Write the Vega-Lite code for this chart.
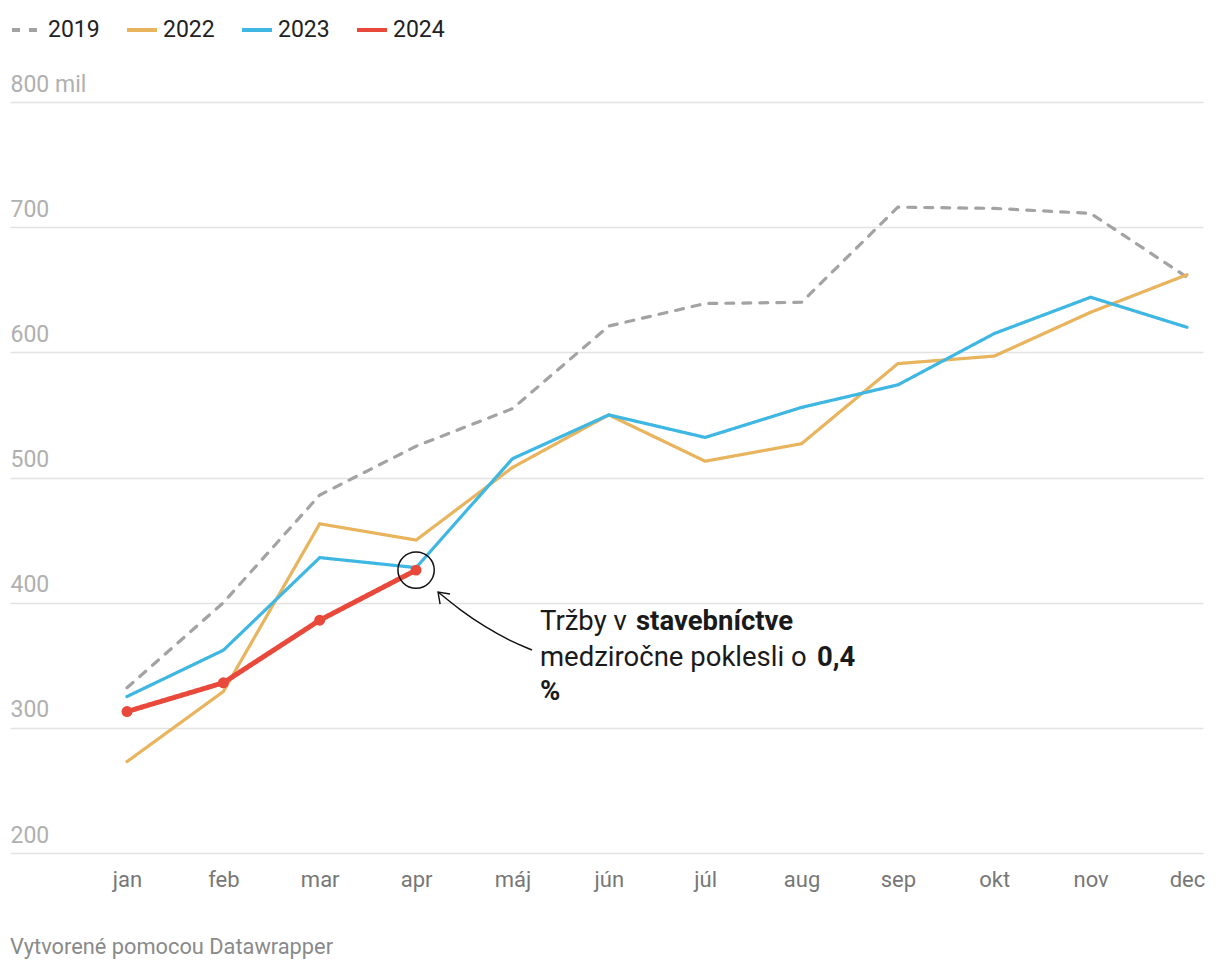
{
  "$schema": "https://vega.github.io/schema/vega-lite/v6.json",
  "autosize": {"type": "none"},
  "width": 1193,
  "height": 751,
  "padding": {"left": 10, "top": 102, "right": 17, "bottom": 117},
  "background": "white",
  "config": {
    "font": "Roboto",
    "view": {"stroke": null}
  },
  "title": {
    "text": "Vytvorené pomocou Datawrapper",
    "orient": "bottom",
    "anchor": "start",
    "frame": "group",
    "fontSize": 21.8,
    "fontWeight": "normal",
    "color": "#8a8a8a",
    "offset": 47
  },
  "datasets": {
    "sales": [
      {"year": "2019", "m": 1, "v": 332}, {"year": "2019", "m": 2, "v": 400}, {"year": "2019", "m": 3, "v": 486}, {"year": "2019", "m": 4, "v": 525},
      {"year": "2019", "m": 5, "v": 555}, {"year": "2019", "m": 6, "v": 621}, {"year": "2019", "m": 7, "v": 639}, {"year": "2019", "m": 8, "v": 640},
      {"year": "2019", "m": 9, "v": 716}, {"year": "2019", "m": 10, "v": 715}, {"year": "2019", "m": 11, "v": 711}, {"year": "2019", "m": 12, "v": 660},
      {"year": "2022", "m": 1, "v": 273}, {"year": "2022", "m": 2, "v": 329}, {"year": "2022", "m": 3, "v": 463}, {"year": "2022", "m": 4, "v": 450},
      {"year": "2022", "m": 5, "v": 508}, {"year": "2022", "m": 6, "v": 550}, {"year": "2022", "m": 7, "v": 513}, {"year": "2022", "m": 8, "v": 527},
      {"year": "2022", "m": 9, "v": 591}, {"year": "2022", "m": 10, "v": 597}, {"year": "2022", "m": 11, "v": 632}, {"year": "2022", "m": 12, "v": 662},
      {"year": "2023", "m": 1, "v": 325}, {"year": "2023", "m": 2, "v": 362}, {"year": "2023", "m": 3, "v": 436}, {"year": "2023", "m": 4, "v": 428},
      {"year": "2023", "m": 5, "v": 515}, {"year": "2023", "m": 6, "v": 550}, {"year": "2023", "m": 7, "v": 532}, {"year": "2023", "m": 8, "v": 556},
      {"year": "2023", "m": 9, "v": 574}, {"year": "2023", "m": 10, "v": 615}, {"year": "2023", "m": 11, "v": 644}, {"year": "2023", "m": 12, "v": 620},
      {"year": "2024", "m": 1, "v": 313}, {"year": "2024", "m": 2, "v": 336}, {"year": "2024", "m": 3, "v": 386}, {"year": "2024", "m": 4, "v": 426}
    ],
    "arrow": [
      {"part": "curve", "i": 1, "x": 5.203, "y": 362.2},
      {"part": "curve", "i": 2, "x": 4.975, "y": 369.4},
      {"part": "curve", "i": 3, "x": 4.715, "y": 380.6},
      {"part": "curve", "i": 4, "x": 4.456, "y": 394.1},
      {"part": "curve", "i": 5, "x": 4.228, "y": 408.5},
      {"part": "headA", "i": 1, "x": 4.352, "y": 406.9},
      {"part": "headA", "i": 2, "x": 4.228, "y": 408.5},
      {"part": "headA", "i": 3, "x": 4.249, "y": 398.9}
    ],
    "notes": [
      {"t": "Tržby v", "x": 5.286, "y": 384.5, "w": "normal"},
      {"t": "stavebníctve", "x": 6.282, "y": 384.5, "w": "bold"},
      {"t": "medziročne poklesli o", "x": 5.286, "y": 355.8, "w": "normal"},
      {"t": "0,4", "x": 8.161, "y": 355.8, "w": "bold"},
      {"t": "%", "x": 5.286, "y": 328.6, "w": "bold"}
    ]
  },
  "layer": [
    {
      "data": {"name": "sales"},
      "transform": [{"filter": "datum.year != '2024'"}],
      "mark": {"type": "line", "strokeWidth": 3.2, "strokeCap": "round", "clip": false},
      "encoding": {
        "x": {
          "field": "m", "type": "quantitative",
          "scale": {"domain": [-0.214, 12.166], "nice": false, "zero": false},
          "axis": {
            "values": [1, 2, 3, 4, 5, 6, 7, 8, 9, 10, 11, 12],
            "labelExpr": "['jan','feb','mar','apr','máj','jún','júl','aug','sep','okt','nov','dec'][datum.value - 1]",
            "title": null, "grid": false, "domain": false, "ticks": false,
            "labelFontSize": 22, "labelColor": "#777777", "labelPadding": 16, "labelFont": "Roboto"
          }
        },
        "y": {
          "field": "v", "type": "quantitative",
          "scale": {"domain": [200, 800], "nice": false, "zero": false},
          "axis": {
            "values": [200, 300, 400, 500, 600, 700, 800],
            "labelExpr": "datum.value == 800 ? '800 mil' : datum.label",
            "title": null, "domain": false, "ticks": false,
            "grid": true, "gridColor": "#e3e3e3", "gridWidth": 1.5,
            "labelAlign": "left", "labelBaseline": "bottom", "labelPadding": 0, "labelOffset": -6,
            "labelFontSize": 23, "labelColor": "#b0b0b0", "labelFont": "Roboto"
          }
        },
        "color": {
          "field": "year", "type": "nominal",
          "scale": {"domain": ["2019", "2022", "2023", "2024"], "range": ["#a3a3a3", "#e8b45e", "#3fb7e3", "#e8493b"]},
          "legend": {
            "title": null, "orient": "top", "direction": "horizontal", "offset": 60,
            "symbolType": "stroke", "symbolSize": 900, "symbolStrokeWidth": 4,
            "labelFontSize": 23, "labelColor": "#222222", "labelFont": "Roboto",
            "columnPadding": 19, "labelOffset": 4
          }
        },
        "strokeDash": {
          "field": "year", "type": "nominal",
          "scale": {"domain": ["2019", "2022", "2023", "2024"], "range": [[8, 9], [1, 0], [1, 0], [1, 0]]},
          "legend": {
            "title": null, "orient": "top", "direction": "horizontal", "offset": 60,
            "symbolType": "stroke", "symbolSize": 900, "symbolStrokeWidth": 4,
            "labelFontSize": 23, "labelColor": "#222222", "labelFont": "Roboto",
            "columnPadding": 19, "labelOffset": 4
          }
        },
        "order": {"field": "m", "type": "quantitative"}
      }
    },
    {
      "data": {"name": "sales"},
      "transform": [{"filter": "datum.year == '2024'"}],
      "mark": {"type": "line", "strokeWidth": 5, "strokeCap": "round"},
      "encoding": {
        "x": {"field": "m", "type": "quantitative"},
        "y": {"field": "v", "type": "quantitative"},
        "color": {"field": "year", "type": "nominal"},
        "strokeDash": {"field": "year", "type": "nominal"}
      }
    },
    {
      "data": {"name": "sales"},
      "transform": [{"filter": "datum.year == '2024'"}],
      "mark": {"type": "circle", "size": 120, "opacity": 1, "color": "#e8493b"},
      "encoding": {
        "x": {"field": "m", "type": "quantitative"},
        "y": {"field": "v", "type": "quantitative"}
      }
    },
    {
      "data": {"name": "sales"},
      "transform": [{"filter": "datum.year == '2024' && datum.m == 4"}],
      "mark": {"type": "point", "shape": "circle", "size": 1320, "filled": false, "stroke": "#111111", "strokeWidth": 1.5, "opacity": 1},
      "encoding": {
        "x": {"field": "m", "type": "quantitative"},
        "y": {"field": "v", "type": "quantitative"}
      }
    },
    {
      "data": {"name": "arrow"},
      "mark": {"type": "line", "color": "#111111", "strokeWidth": 1.4, "interpolate": "basis"},
      "transform": [{"filter": "datum.part == 'curve'"}],
      "encoding": {
        "x": {"field": "x", "type": "quantitative"},
        "y": {"field": "y", "type": "quantitative"},
        "order": {"field": "i", "type": "quantitative"}
      }
    },
    {
      "data": {"name": "arrow"},
      "mark": {"type": "line", "color": "#111111", "strokeWidth": 1.4},
      "transform": [{"filter": "datum.part == 'headA'"}],
      "encoding": {
        "x": {"field": "x", "type": "quantitative"},
        "y": {"field": "y", "type": "quantitative"},
        "order": {"field": "i", "type": "quantitative"}
      }
    },
    {
      "data": {"name": "notes"},
      "transform": [{"filter": "datum.w == 'normal'"}],
      "mark": {"type": "text", "align": "left", "baseline": "middle", "fontSize": 27.5, "fontWeight": "normal", "color": "#1a1a1a", "font": "Roboto"},
      "encoding": {
        "x": {"field": "x", "type": "quantitative"},
        "y": {"field": "y", "type": "quantitative"},
        "text": {"field": "t"}
      }
    },
    {
      "data": {"name": "notes"},
      "transform": [{"filter": "datum.w == 'bold'"}],
      "mark": {"type": "text", "align": "left", "baseline": "middle", "fontSize": 27.5, "fontWeight": "bold", "color": "#1a1a1a", "font": "Roboto"},
      "encoding": {
        "x": {"field": "x", "type": "quantitative"},
        "y": {"field": "y", "type": "quantitative"},
        "text": {"field": "t"}
      }
    }
  ]
}
